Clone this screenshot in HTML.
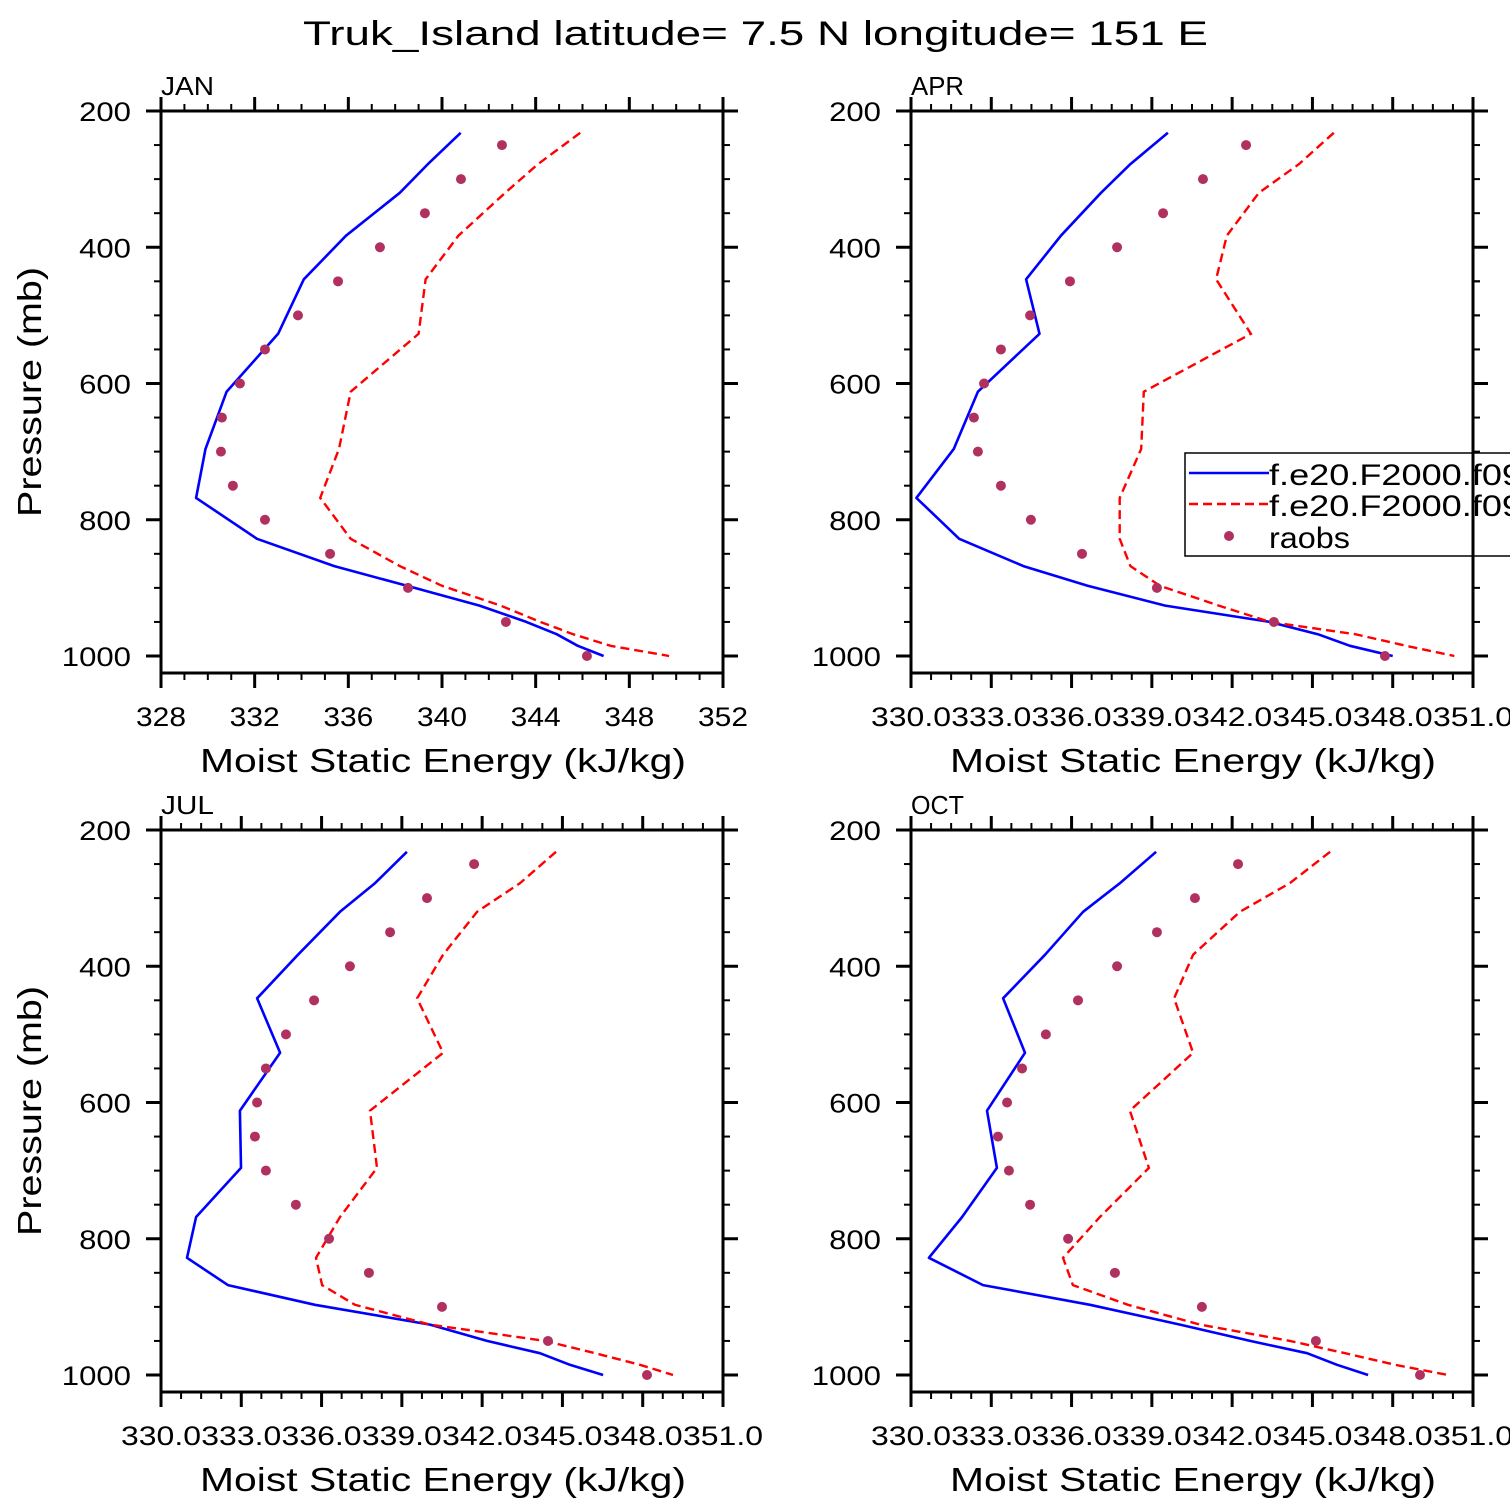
<!DOCTYPE html>
<html><head><meta charset="utf-8"><style>
html,body{margin:0;padding:0;background:#fff;}
svg{display:block;font-family:"Liberation Sans",sans-serif;}
</style></head><body>
<svg id="chart" width="1510" height="1510" viewBox="0 0 1510 1510" xmlns="http://www.w3.org/2000/svg">
<text x="303" y="45" font-size="34" textLength="905" lengthAdjust="spacingAndGlyphs">Truk_Island  latitude= 7.5 N longitude= 151 E</text>
</svg>
<script>
const modelLevels = [232,278,320,383,447,527,612,696,768,828,868,897,926,950,968,985,1000];
const obsLevels = [250,300,350,400,450,500,550,600,650,700,750,800,850,900,950,1000];
const months = ["JAN","APR","JUL","OCT"];
const janBlue = [340.8,339.4,338.2,335.9,334.1,333.0,330.8,329.9,329.5,332.1,335.4,338.5,341.6,343.6,344.9,345.8,346.9];
const janRed = [345.9,344.1,342.7,340.7,339.3,339.0,336.1,335.6,334.8,336.1,338.2,340.0,342.5,344.2,345.6,347.2,349.7];
const janObs = [342.56,340.81,339.27,337.35,335.56,333.85,332.44,331.37,330.60,330.56,331.07,332.44,335.22,338.55,342.73,346.19];
const aprBlue = [339.6,338.2,337.1,335.6,334.3,334.8,332.5,331.6,330.2,331.8,334.2,336.6,339.5,343.4,345.2,346.4,348.0];
const aprRed = [345.8,344.5,343.0,341.8,341.4,342.7,338.7,338.6,337.8,337.8,338.2,339.3,341.5,343.4,346.6,348.5,350.3];
const aprObs = [342.52,340.91,339.42,337.70,335.94,334.45,333.36,332.73,332.35,332.50,333.36,334.48,336.39,339.19,343.56,347.71];
const julBlue = [339.19,338.00,336.69,335.12,333.59,334.45,332.95,332.99,331.31,330.97,332.50,335.75,340.05,342.18,344.16,345.28,346.52];
const julRed = [344.76,343.42,341.81,340.54,339.57,340.54,337.81,338.07,336.69,335.79,336.02,337.25,340.05,344.35,346.22,347.90,349.13];
const julObs = [341.70,339.94,338.56,337.06,335.72,334.67,333.92,333.59,333.51,333.92,335.04,336.28,337.77,340.50,344.46,348.16];
const octBlue = [339.16,337.81,336.43,335.01,333.44,334.26,332.84,333.21,331.91,330.67,332.69,336.69,340.05,342.67,344.80,345.92,347.08];
const octRed = [345.66,344.16,342.29,340.54,339.83,340.54,338.18,338.89,337.06,335.68,336.05,338.11,340.80,344.16,346.22,348.09,350.07];
const octObs = [342.22,340.61,339.19,337.70,336.24,335.04,334.15,333.59,333.25,333.66,334.45,335.87,337.62,340.87,345.13,349.02];
const xTicksJan = [328,332,336,340,344,348,352];
const xTicksOther = [330,333,336,339,342,345,348,351];
const yTicks = [200,400,600,800,1000];

const svg = document.getElementById('chart');
const NS = 'http://www.w3.org/2000/svg';
function mk(tag, attrs, parent){const e=document.createElementNS(NS,tag);for(const k in attrs)e.setAttribute(k,attrs[k]);(parent||svg).appendChild(e);return e;}

const panels = [
 {m:"jan",label:"JAN",x0:161,y0:111,xmin:328,xmax:352,ticks:xTicksJan,minor:1,fmt:v=>String(v),blue:janBlue,red:janRed,obs:janObs},
 {m:"apr",label:"APR",x0:911,y0:111,xmin:330,xmax:351,ticks:xTicksOther,minor:0.75,fmt:v=>v.toFixed(1),blue:aprBlue,red:aprRed,obs:aprObs},
 {m:"jul",label:"JUL",x0:161,y0:830,xmin:330,xmax:351,ticks:xTicksOther,minor:0.75,fmt:v=>v.toFixed(1),blue:julBlue,red:julRed,obs:julObs},
 {m:"oct",label:"OCT",x0:911,y0:830,xmin:330,xmax:351,ticks:xTicksOther,minor:0.75,fmt:v=>v.toFixed(1),blue:octBlue,red:octRed,obs:octObs}
];
const W=562,H=562;
panels.forEach((p,i)=>{
  const g=mk('g',{});
  
  
  const xs=v=>p.x0+(v-p.xmin)/(p.xmax-p.xmin)*W;
  const ys=pr=>p.y0+(pr-200)*0.68125;
  const pts=(arr)=>arr.map((v,k)=>xs(v).toFixed(1)+','+ys(modelLevels[k]).toFixed(1)).join(' ');
  const b=mk('polyline',{points:pts(p.blue),fill:'none',stroke:'#0000ff','stroke-width':2.6,'stroke-linejoin':'round'},g);
  
  
  const r=mk('polyline',{points:pts(p.red),fill:'none',stroke:'#ff0000','stroke-width':2.4,'stroke-dasharray':'9,5'},g);
  
  
  p.obs.forEach((v,k)=>{
    const c=mk('circle',{cx:xs(v),cy:ys(obsLevels[k]),r:5,fill:'#b03060'},g);
    
    
  });
  const fr=mk('rect',{x:p.x0,y:p.y0,width:W,height:H,fill:'none',stroke:'#000','stroke-width':3},g);
  
  
  for(let v=p.xmin;v<=p.xmax+1e-6;v+=p.minor){
    const X=xs(v);
    mk('line',{x1:X,y1:p.y0,x2:X,y2:p.y0-7,stroke:'#000','stroke-width':2},g);
    mk('line',{x1:X,y1:p.y0+H,x2:X,y2:p.y0+H+7,stroke:'#000','stroke-width':2},g);
  }
  p.ticks.forEach(v=>{
    const X=xs(v);
    mk('line',{x1:X,y1:p.y0,x2:X,y2:p.y0-14,stroke:'#000','stroke-width':3},g);
    mk('line',{x1:X,y1:p.y0+H,x2:X,y2:p.y0+H+15,stroke:'#000','stroke-width':3},g);
    const s=p.fmt(v);
    const len = s.length===3 ? 50 : 80;
    const t=mk('text',{x:X-len/2,y:p.y0+H+53,'font-size':27,textLength:len,lengthAdjust:'spacingAndGlyphs'},g);
    t.textContent=s;
    
    
  });
  for(let pr=200;pr<=1025;pr+=50){
    const Y=ys(pr);
    mk('line',{x1:p.x0,y1:Y,x2:p.x0-7,y2:Y,stroke:'#000','stroke-width':2},g);
    mk('line',{x1:p.x0+W,y1:Y,x2:p.x0+W+7,y2:Y,stroke:'#000','stroke-width':2},g);
  }
  yTicks.forEach(pr=>{
    const Y=ys(pr);
    mk('line',{x1:p.x0,y1:Y,x2:p.x0-15,y2:Y,stroke:'#000','stroke-width':3},g);
    mk('line',{x1:p.x0+W,y1:Y,x2:p.x0+W+15,y2:Y,stroke:'#000','stroke-width':3},g);
    const s=String(pr);
    const len=s.length*17.3;
    const t=mk('text',{x:p.x0-30-len,y:Y+10,'font-size':27,textLength:len,lengthAdjust:'spacingAndGlyphs'},g);
    t.textContent=s;
    
    
  });
  const ml=mk('text',{x:p.x0,y:p.y0-16,'font-size':26,textLength:53,lengthAdjust:'spacingAndGlyphs'},g);
  ml.textContent=p.label;
  
  
  const xt=mk('text',{x:p.x0+39,y:p.y0+H+99,'font-size':33,textLength:486,lengthAdjust:'spacingAndGlyphs'},g);
  xt.textContent='Moist Static Energy (kJ/kg)';
  
  
  if(p.x0<500){
    const cy=p.y0+281;
    const yt=mk('text',{x:41-0,y:cy,'font-size':33,'text-anchor':'middle',textLength:250,lengthAdjust:'spacingAndGlyphs',transform:'rotate(-90 41 '+cy+')'},g);
    yt.textContent='Pressure (mb)';
    
    
  }
});
const lg=mk('g',{});


mk('rect',{x:1185,y:453,width:340,height:103,fill:'#fff',stroke:'#000','stroke-width':1.5},lg);
mk('line',{x1:1189,y1:473,x2:1269,y2:473,stroke:'#0000ff','stroke-width':2.6},lg);
mk('line',{x1:1189,y1:504,x2:1269,y2:504,stroke:'#ff0000','stroke-width':2.4,'stroke-dasharray':'9,5'},lg);
mk('circle',{cx:1229,cy:536,r:5,fill:'#b03060'},lg);
[['f.e20.F2000.f09',483,'legend-entry-model-1',253],['f.e20.F2000.f09',514,'legend-entry-model-2',253],['raobs',546,'legend-entry-raobs',81]].forEach(a=>{
  const t=mk('text',{x:1269,y:a[1]+2,'font-size':30,textLength:a[3],lengthAdjust:'spacingAndGlyphs'},lg);
  t.textContent=a[0];
  
  
});
mk('line',{x1:1473,y1:440,x2:1473,y2:570,stroke:'#000','stroke-width':3},lg);
[450,500,550].forEach(pr=>{const Y=111+(pr-200)*0.68125;mk('line',{x1:1473,y1:Y,x2:1480,y2:Y,stroke:'#000','stroke-width':2},lg);});
</script>
</body></html>
